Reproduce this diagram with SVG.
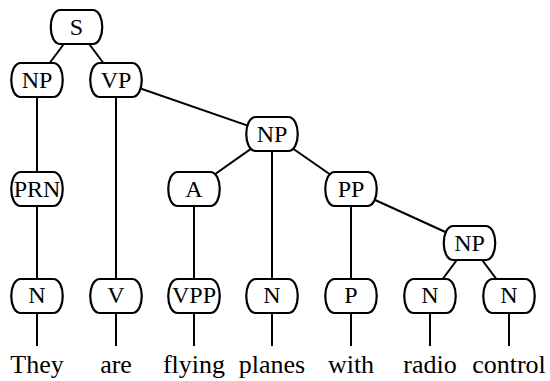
<svg xmlns="http://www.w3.org/2000/svg" width="550" height="381" viewBox="0 0 550 381">
  <style>
    .edge { stroke: #000; stroke-width: 2; fill: none; }
    .box { fill: #fff; stroke: #000; stroke-width: 2.2; }
    .lbl { font-family: "Liberation Serif", "Times New Roman", serif; font-size: 24px; text-anchor: middle; fill: #000; }
    .word { font-family: "Liberation Serif", "Times New Roman", serif; font-size: 26px; text-anchor: middle; fill: #000; }
  </style>
  <defs>
    <!-- node shell: flat top and bottom, bulging sides; origin at centre -->
    <path id="shell" d="M -16,-17 H 16 C 29,-17 29,17 16,17 H -16 C -29,17 -29,-17 -16,-17 Z"/>
  </defs>

  <g id="connectors">
    <line class="edge" x1="76.5" y1="27" x2="37" y2="80"/>
    <line class="edge" x1="76.5" y1="27" x2="116" y2="80"/>
    <line class="edge" x1="37" y1="80" x2="37" y2="189"/>
    <line class="edge" x1="37" y1="189" x2="37" y2="296"/>
    <line class="edge" x1="116" y1="80" x2="116" y2="296"/>
    <line class="edge" x1="116" y1="80" x2="272" y2="134"/>
    <line class="edge" x1="272" y1="134" x2="194" y2="189"/>
    <line class="edge" x1="272" y1="134" x2="272" y2="296"/>
    <line class="edge" x1="272" y1="134" x2="351" y2="189"/>
    <line class="edge" x1="194" y1="189" x2="194" y2="296"/>
    <line class="edge" x1="351" y1="189" x2="351" y2="296"/>
    <line class="edge" x1="351" y1="189" x2="469.5" y2="243"/>
    <line class="edge" x1="469.5" y1="243" x2="430" y2="296"/>
    <line class="edge" x1="469.5" y1="243" x2="509" y2="296"/>
    <!-- leaves to words -->
    <line class="edge" x1="37" y1="313" x2="37" y2="346"/>
    <line class="edge" x1="116" y1="313" x2="116" y2="346"/>
    <line class="edge" x1="194" y1="313" x2="194" y2="346"/>
    <line class="edge" x1="272" y1="313" x2="272" y2="346"/>
    <line class="edge" x1="351" y1="313" x2="351" y2="346"/>
    <line class="edge" x1="430" y1="313" x2="430" y2="346"/>
    <line class="edge" x1="509" y1="313" x2="509" y2="346"/>
  </g>

  <g id="n-S" transform="translate(76.5,27)"><use href="#shell" class="box"/><text class="lbl" y="8">S</text></g>
  <g id="n-NP1" transform="translate(37,80)"><use href="#shell" class="box"/><text class="lbl" y="8">NP</text></g>
  <g id="n-VP" transform="translate(116,80)"><use href="#shell" class="box"/><text class="lbl" y="8">VP</text></g>
  <g id="n-NP2" transform="translate(272,134)"><use href="#shell" class="box"/><text class="lbl" y="8">NP</text></g>
  <g id="n-PRN" transform="translate(37,189)"><use href="#shell" class="box"/><text class="lbl" y="8">PRN</text></g>
  <g id="n-A" transform="translate(194,189)"><use href="#shell" class="box"/><text class="lbl" y="8">A</text></g>
  <g id="n-PP" transform="translate(351,189)"><use href="#shell" class="box"/><text class="lbl" y="8">PP</text></g>
  <g id="n-NP3" transform="translate(469.5,243)"><use href="#shell" class="box"/><text class="lbl" y="8">NP</text></g>
  <g id="n-N1" transform="translate(37,296)"><use href="#shell" class="box"/><text class="lbl" y="7">N</text></g>
  <g id="n-V" transform="translate(116,296)"><use href="#shell" class="box"/><text class="lbl" y="7">V</text></g>
  <g id="n-VPP" transform="translate(194,296)"><use href="#shell" class="box"/><text class="lbl" y="7">VPP</text></g>
  <g id="n-N2" transform="translate(272,296)"><use href="#shell" class="box"/><text class="lbl" y="7">N</text></g>
  <g id="n-P" transform="translate(351,296)"><use href="#shell" class="box"/><text class="lbl" y="7">P</text></g>
  <g id="n-N3" transform="translate(430,296)"><use href="#shell" class="box"/><text class="lbl" y="7">N</text></g>
  <g id="n-N4" transform="translate(509,296)"><use href="#shell" class="box"/><text class="lbl" y="7">N</text></g>

  <g id="words">
    <text class="word" x="37" y="373">They</text>
    <text class="word" x="116" y="373">are</text>
    <text class="word" x="194" y="373">flying</text>
    <text class="word" x="272" y="373">planes</text>
    <text class="word" x="351" y="373">with</text>
    <text class="word" x="430" y="373">radio</text>
    <text class="word" x="509" y="373">control</text>
  </g>
</svg>
